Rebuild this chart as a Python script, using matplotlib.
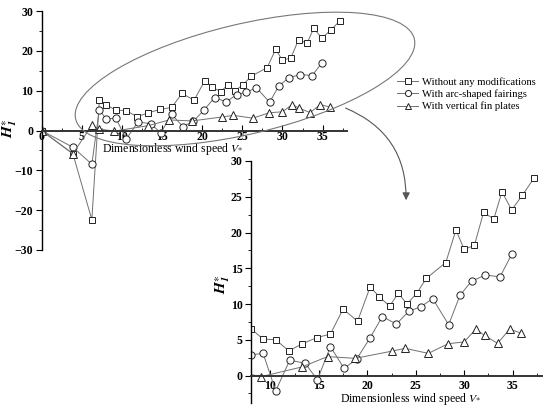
import matplotlib
matplotlib.use("Agg")
import matplotlib.pyplot as plt
from matplotlib.patches import Ellipse, FancyArrowPatch
from matplotlib.lines import Line2D

plt.rcParams["font.family"] = ["Liberation Serif", "DejaVu Serif"]
plt.rcParams["mathtext.fontset"] = "stix"

# H1* values
sq_x = [0, 3.9, 6.27, 7.2, 8.04, 9.25, 10.55, 11.9, 13.3, 14.8, 16.2, 17.5, 19.0, 20.3, 21.25,
        22.3, 23.2, 24.1, 25.1, 26.1, 28.1, 29.15, 30.0, 31.05, 32.0, 33.06, 33.9, 34.9, 36.0, 37.2]
sq_y = [0, -5.8, -22.4, 7.6, 6.5, 5.1, 5.0, 3.45, 4.45, 5.3, 5.8, 9.3, 7.6, 12.4, 11.0,
        9.7, 11.5, 10.0, 11.5, 13.6, 15.8, 20.35, 17.65, 18.2, 22.8, 21.9, 25.7, 23.15, 25.2, 27.6]

ci_x = [0, 3.9, 6.27, 7.2, 8.04, 9.25, 10.55, 12.0, 13.6, 14.85, 16.2, 17.6, 18.9, 20.26, 21.55,
        23.0, 24.3, 25.5, 26.75, 28.4, 29.56, 30.76, 32.2, 33.7, 34.9]
ci_y = [0, -4.2, -8.45, 5.2, 2.9, 3.1, -2.15, 2.15, 1.7, -0.6, 4.05, 1.0, 2.3, 5.2, 8.25,
        7.2, 9.0, 9.6, 10.75, 7.1, 11.2, 13.2, 14.05, 13.8, 16.95]

tr_x = [0, 3.9, 6.27, 7.2, 9.07, 13.26, 15.9, 18.75, 22.5, 23.9, 26.3, 28.35, 30.0, 31.2,
        32.1, 33.45, 34.7, 35.9]
tr_y = [0, -5.85, 1.35, 0.35, -0.15, 1.2, 2.65, 2.4, 3.4, 3.8, 3.1, 4.45, 4.7, 6.5,
        5.6, 4.5, 6.5, 5.9]

labels = ["Without any modifications", "With arc-shaped fairings", "With vertical fin plates"]
markers = ["s", "o", "^"]
msizes = [4.8, 5.2, 5.6]

W, H = 550, 413
LINE = "#707070"
XLABEL = r"Dimensionless wind speed $V_{*}$"
YLABEL = r"$\mathbfit{H}_{\mathbfit{1}}^{\ast}$"


def px_rect(x0, y0, x1, y1):
    # pixel box (top-left origin) -> figure fraction rect
    return [x0 / W, 1 - y1 / H, (x1 - x0) / W, (y1 - y0) / H]


def draw_series(ax):
    for xs, ys, m, ms in zip([sq_x, ci_x, tr_x], [sq_y, ci_y, tr_y], markers, msizes):
        ax.plot(xs, ys, color=LINE, lw=0.7, marker=m, ms=ms, mfc="white",
                mec="#222222", mew=0.7, clip_on=True)


def style_axes(ax, xmaj, xmin, ymaj, ymin, xpad):
    ax.set_facecolor("none")
    for s in ("top", "right"):
        ax.spines[s].set_visible(False)
    ax.spines["bottom"].set_position(("data", 0))
    ax.spines["bottom"].set_linewidth(1.4)
    ax.spines["bottom"].set_color("#333333")
    ax.spines["left"].set_linewidth(1.0)
    ax.set_xticks(xmaj)
    ax.set_xticks(xmin, minor=True)
    ax.set_yticks(ymaj)
    ax.set_yticks(ymin, minor=True)
    ax.tick_params(axis="x", which="major", direction="in", length=4, pad=xpad, labelsize=8.5)
    ax.tick_params(axis="x", which="minor", direction="in", length=2)
    ax.tick_params(axis="y", which="major", direction="out", length=4, pad=2, labelsize=8.5)
    ax.tick_params(axis="y", which="minor", direction="out", length=2)
    for lbl in ax.get_xticklabels() + ax.get_yticklabels():
        lbl.set_fontweight("bold")


fig = plt.figure(figsize=(W / 100, H / 100), dpi=100)

# main chart
ax = fig.add_axes(px_rect(41.5, 11, 346.7, 250))
draw_series(ax)
ax.set_xlim(0, 38)
ax.set_ylim(-30, 30)
style_axes(ax, range(0, 36, 5), [2.5 * i for i in range(16)],
           range(-30, 31, 10), range(-30, 31, 5), xpad=0)
ax.text(16.3, -4.7, XLABEL, ha="center", va="center", fontsize=8.5)
fig.text(10 / W, 1 - 128 / H, YLABEL, rotation=90, ha="center", va="center", fontsize=11)

# zoomed inset
ax2 = fig.add_axes(px_rect(251, 161, 541.7, 402.7))
draw_series(ax2)
ax2.set_xlim(8, 38)
ax2.set_ylim(-3.8, 30)
style_axes(ax2, range(10, 36, 5), [2.5 * i for i in range(4, 16)],
           range(0, 31, 5), [2.5 * i for i in range(-1, 13)], xpad=3)
ax2.text(24.5, -3.3, XLABEL, ha="center", va="center", fontsize=8.5)
fig.text(223 / W, 1 - 284 / H, YLABEL, rotation=90, ha="center", va="center", fontsize=11)

# legend
handles = [Line2D([], [], color=LINE, lw=0.7, marker=m, ms=ms - 0.8, mfc="white",
                  mec="#222222", mew=0.7) for m, ms in zip(markers, msizes)]
fig.legend(handles, labels, loc="upper left", bbox_to_anchor=(397 / W, 1 - 77 / H),
           frameon=False, fontsize=7.7, handlelength=2.0, handletextpad=0.3,
           labelspacing=0.25, borderpad=0, borderaxespad=0)

# ellipse + arrow overlay, in pixel coordinates
ov = fig.add_axes([0, 0, 1, 1])
ov.set_xlim(0, W)
ov.set_ylim(H, 0)
ov.axis("off")
ov.add_patch(Ellipse((245, 79), 348, 110, angle=-13.3, fill=False, ec="#777777", lw=0.8))
ov.add_patch(FancyArrowPatch((343, 107), (406, 203), connectionstyle="arc3,rad=-0.35",
                             arrowstyle="-|>", mutation_scale=11, color="#555555", lw=0.8))

fig.savefig("out.png", dpi=100)
